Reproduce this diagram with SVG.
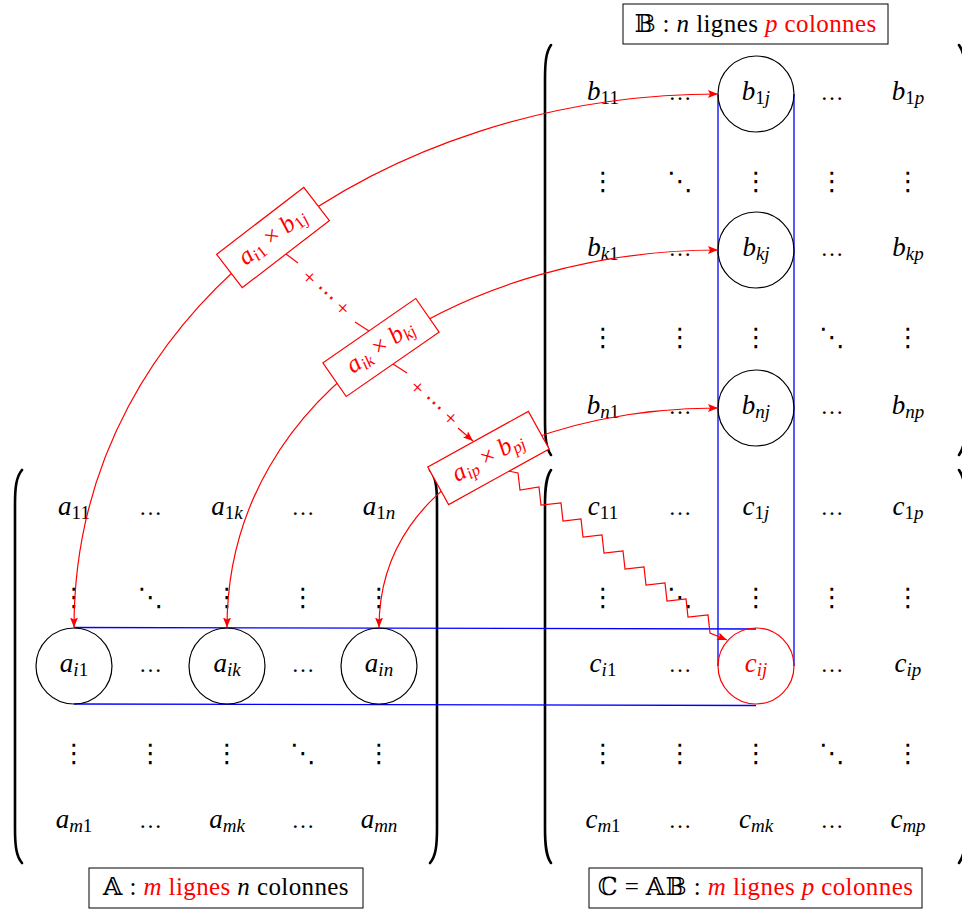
<svg xmlns="http://www.w3.org/2000/svg" width="962" height="910" viewBox="0 0 962 910">
<style>
.mi{font-family:'Liberation Serif','Times New Roman',Tinos,'DejaVu Serif','Noto Serif',serif;font-style:italic;font-size:27px;text-anchor:middle;fill:#000}
.sb{font-size:19px}
.up{font-style:normal}
.el{font-family:'Liberation Serif','Times New Roman',Tinos,serif;font-size:23px;text-anchor:middle;fill:#000}
.vd{font-family:'DejaVu Sans',sans-serif;font-size:26px;text-anchor:middle;fill:#000}
.circ{fill:none;stroke:#000;stroke-width:1.2}
.blue{stroke:#0000ff;stroke-width:1.3;fill:none}
.red{stroke:#ff0000;stroke-width:1.2;fill:none}
.box{fill:#fff;stroke:#ff0000;stroke-width:1.2}
.bt{font-family:'Liberation Serif','Times New Roman',Tinos,'DejaVu Serif',serif;font-style:italic;font-size:25px;text-anchor:middle;fill:#ff0000}
.bs{font-size:17px}
.pl{font-family:'Liberation Serif','Times New Roman','DejaVu Sans',serif;font-size:22px;text-anchor:middle;fill:#ff0000}
.lbl{font-family:'Liberation Serif','Times New Roman',Tinos,'DejaVu Serif','DejaVu Sans',serif;font-size:25px;letter-spacing:0.4px;text-anchor:middle;fill:#000}
.lbox{fill:#fff;stroke:#000;stroke-width:1}
.paren{fill:none;stroke:#000;stroke-width:2.6;stroke-linecap:round}
.it{font-style:italic}
.rd{fill:#ff0000}
</style>
<defs>
<marker id="ar" viewBox="0 0 10 8" refX="10" refY="4" markerWidth="10" markerHeight="8" markerUnits="userSpaceOnUse" orient="auto-start-reverse">
<path d="M0,0 L10,4 L0,8 L2,4 z" fill="#ff0000"/>
</marker>
</defs>

<!-- parentheses -->
<g id="parens">
<path class="paren" d="M551,45 C546,52 545,62 545,80 L545,420 C545,438 546,448 551,455"/>
<path class="paren" d="M959,45 C964,52 966,62 966,80 L966,420 C966,438 964,448 959,455"/>
<path class="paren" d="M22,470 C16,477 15,488 15,505 L15,828 C15,845 16,856 22,863"/>
<path class="paren" d="M430,470 C436,477 437,488 437,505 L437,828 C437,845 436,856 430,863"/>
<path class="paren" d="M551,470 C546,477 545,488 545,505 L545,828 C545,845 546,856 551,863"/>
<path class="paren" d="M959,470 C964,477 966,488 966,505 L966,828 C966,845 964,856 959,863"/>
</g>

<!-- blue bands -->
<g id="bands">
<line class="blue" x1="718" y1="94" x2="718" y2="666"/>
<line class="blue" x1="794" y1="94" x2="794" y2="666"/>
<line class="blue" x1="74" y1="627.5" x2="756" y2="629"/>
<line class="blue" x1="74" y1="704" x2="756" y2="705.5"/>
</g>

<!-- matrix B -->
<g id="B">
<g id="b11"><text class="mi" x="603" y="100">b<tspan class="sb up" dy="4">11</tspan></text></g>
<g id="b12"><text class="el" x="680" y="100">…</text></g>
<g id="b1j"><circle class="circ" cx="756" cy="94" r="38"/><text class="mi" x="756" y="100">b<tspan class="sb up" dy="4">1</tspan><tspan class="sb">j</tspan></text></g>
<g id="b14"><text class="el" x="832" y="100">…</text></g>
<g id="b1p"><text class="mi" x="908" y="100">b<tspan class="sb up" dy="4">1</tspan><tspan class="sb">p</tspan></text></g>

<g id="b21"><text class="vd" x="603" y="190">⋮</text></g>
<g id="b22"><text class="vd" x="680" y="190">⋱</text></g>
<g id="b23"><text class="vd" x="756" y="190">⋮</text></g>
<g id="b24"><text class="vd" x="832" y="190">⋮</text></g>
<g id="b25"><text class="vd" x="908" y="190">⋮</text></g>

<g id="bk1"><text class="mi" x="603" y="256">b<tspan class="sb" dy="4">k</tspan><tspan class="sb up">1</tspan></text></g>
<g id="bk2"><text class="el" x="680" y="256">…</text></g>
<g id="bkj"><circle class="circ" cx="756" cy="250" r="38"/><text class="mi" x="756" y="256">b<tspan class="sb" dy="4">kj</tspan></text></g>
<g id="bk4"><text class="el" x="832" y="256">…</text></g>
<g id="bkp"><text class="mi" x="908" y="256">b<tspan class="sb" dy="4">kp</tspan></text></g>

<g id="b41"><text class="vd" x="603" y="346">⋮</text></g>
<g id="b42"><text class="vd" x="680" y="346">⋮</text></g>
<g id="b43"><text class="vd" x="756" y="346">⋮</text></g>
<g id="b44"><text class="vd" x="832" y="346">⋱</text></g>
<g id="b45"><text class="vd" x="908" y="346">⋮</text></g>

<g id="bn1"><text class="mi" x="603" y="414">b<tspan class="sb" dy="4">n</tspan><tspan class="sb up">1</tspan></text></g>
<g id="bn2"><text class="el" x="680" y="414">…</text></g>
<g id="bnj"><circle class="circ" cx="756" cy="408" r="38"/><text class="mi" x="756" y="414">b<tspan class="sb" dy="4">nj</tspan></text></g>
<g id="bn4"><text class="el" x="832" y="414">…</text></g>
<g id="bnp"><text class="mi" x="908" y="414">b<tspan class="sb" dy="4">np</tspan></text></g>
</g>

<!-- matrix A -->
<g id="A">
<g id="a11"><text class="mi" x="74" y="515">a<tspan class="sb up" dy="4">11</tspan></text></g>
<g id="a12"><text class="el" x="150.5" y="515">…</text></g>
<g id="a1k"><text class="mi" x="227" y="515">a<tspan class="sb up" dy="4">1</tspan><tspan class="sb">k</tspan></text></g>
<g id="a14"><text class="el" x="303" y="515">…</text></g>
<g id="a1n"><text class="mi" x="379" y="515">a<tspan class="sb up" dy="4">1</tspan><tspan class="sb">n</tspan></text></g>

<g id="a21"><text class="vd" x="74" y="606">⋮</text></g>
<g id="a22"><text class="vd" x="150.5" y="606">⋱</text></g>
<g id="a23"><text class="vd" x="227" y="606">⋮</text></g>
<g id="a24"><text class="vd" x="303" y="606">⋮</text></g>
<g id="a25"><text class="vd" x="379" y="606">⋮</text></g>

<g id="ai1"><circle class="circ" cx="74" cy="666" r="38"/><text class="mi" x="74" y="672">a<tspan class="sb" dy="4">i</tspan><tspan class="sb up">1</tspan></text></g>
<g id="ai2"><text class="el" x="150.5" y="672">…</text></g>
<g id="aik"><circle class="circ" cx="227" cy="666" r="38"/><text class="mi" x="227" y="672">a<tspan class="sb" dy="4">ik</tspan></text></g>
<g id="ai4"><text class="el" x="303" y="672">…</text></g>
<g id="ain"><circle class="circ" cx="379" cy="666" r="38"/><text class="mi" x="379" y="672">a<tspan class="sb" dy="4">in</tspan></text></g>

<g id="a41"><text class="vd" x="74" y="762">⋮</text></g>
<g id="a42"><text class="vd" x="150.5" y="762">⋮</text></g>
<g id="a43"><text class="vd" x="227" y="762">⋮</text></g>
<g id="a44"><text class="vd" x="303" y="762">⋱</text></g>
<g id="a45"><text class="vd" x="379" y="762">⋮</text></g>

<g id="am1"><text class="mi" x="74" y="828">a<tspan class="sb" dy="4">m</tspan><tspan class="sb up">1</tspan></text></g>
<g id="am2"><text class="el" x="150.5" y="828">…</text></g>
<g id="amk"><text class="mi" x="227" y="828">a<tspan class="sb" dy="4">mk</tspan></text></g>
<g id="am4"><text class="el" x="303" y="828">…</text></g>
<g id="amn"><text class="mi" x="379" y="828">a<tspan class="sb" dy="4">mn</tspan></text></g>
</g>

<!-- matrix C -->
<g id="C">
<g id="c11"><text class="mi" x="603" y="515">c<tspan class="sb up" dy="4">11</tspan></text></g>
<g id="c12"><text class="el" x="680" y="515">…</text></g>
<g id="c1j"><text class="mi" x="756" y="515">c<tspan class="sb up" dy="4">1</tspan><tspan class="sb">j</tspan></text></g>
<g id="c14"><text class="el" x="832" y="515">…</text></g>
<g id="c1p"><text class="mi" x="908" y="515">c<tspan class="sb up" dy="4">1</tspan><tspan class="sb">p</tspan></text></g>

<g id="c21"><text class="vd" x="603" y="606">⋮</text></g>
<g id="c22"><text class="vd" x="680" y="606">⋱</text></g>
<g id="c23"><text class="vd" x="756" y="606">⋮</text></g>
<g id="c24"><text class="vd" x="832" y="606">⋮</text></g>
<g id="c25"><text class="vd" x="908" y="606">⋮</text></g>

<g id="ci1"><text class="mi" x="603" y="672">c<tspan class="sb" dy="4">i</tspan><tspan class="sb up">1</tspan></text></g>
<g id="ci2"><text class="el" x="680" y="672">…</text></g>
<g id="cij"><circle cx="756" cy="666" r="38" fill="none" stroke="#ff0000" stroke-width="1.2"/><text class="mi rd" x="756" y="672">c<tspan class="sb" dy="4">ij</tspan></text></g>
<g id="ci4"><text class="el" x="832" y="672">…</text></g>
<g id="cip"><text class="mi" x="908" y="672">c<tspan class="sb" dy="4">ip</tspan></text></g>

<g id="c41"><text class="vd" x="603" y="762">⋮</text></g>
<g id="c42"><text class="vd" x="680" y="762">⋮</text></g>
<g id="c43"><text class="vd" x="756" y="762">⋮</text></g>
<g id="c44"><text class="vd" x="832" y="762">⋱</text></g>
<g id="c45"><text class="vd" x="908" y="762">⋮</text></g>

<g id="cm1"><text class="mi" x="603" y="828">c<tspan class="sb" dy="4">m</tspan><tspan class="sb up">1</tspan></text></g>
<g id="cm2"><text class="el" x="680" y="828">…</text></g>
<g id="cmk"><text class="mi" x="756" y="828">c<tspan class="sb" dy="4">mk</tspan></text></g>
<g id="cm4"><text class="el" x="832" y="828">…</text></g>
<g id="cmp"><text class="mi" x="908" y="828">c<tspan class="sb" dy="4">mp</tspan></text></g>
</g>

<!-- connectors -->
<g id="connectors">
<path class="red" d="M74,627.5 C74,300 391,94 718,94" marker-start="url(#ar)" marker-end="url(#ar)"/>
<path class="red" d="M227,627.5 C227,385 476,250 718,250" marker-start="url(#ar)" marker-end="url(#ar)"/>
<path class="red" d="M379,627.5 C379,469 560,408 718,408" marker-start="url(#ar)" marker-end="url(#ar)"/>
<line class="red" x1="286" y1="254" x2="298" y2="263"/>
<line class="red" x1="355" y1="322" x2="369" y2="331"/>
<line class="red" x1="393" y1="364" x2="407" y2="373"/>
<line class="red" x1="458" y1="428" x2="473" y2="441" marker-end="url(#ar)"/>
<polyline class="red" points="508,471 518,473 520,490 539,487 541,505 561,503 563,521 581,519 583,537 602,535 604,553 623,551 625,569 644,567 646,585 665,583 667,601 686,599 688,617 708,615 710,633 727,640" marker-end="url(#ar)"/>
<text class="pl" transform="translate(326,293) rotate(43)" y="7">+ ⋯ +</text>
<text class="pl" transform="translate(434,403) rotate(43)" y="7">+ ⋯ +</text>
</g>

<!-- product boxes -->
<g id="p1" transform="translate(273,237.5) rotate(-37.6)">
<rect class="box" x="-55" y="-21" width="110" height="42"/>
<text class="bt" y="6">a<tspan class="bs" dy="4">i</tspan><tspan class="bs up">1</tspan><tspan class="up" dy="-4"> × </tspan>b<tspan class="bs up" dy="4">1</tspan><tspan class="bs">j</tspan></text>
</g>
<g id="p2" transform="translate(381,347.5) rotate(-34.7)">
<rect class="box" x="-56.5" y="-20.5" width="113" height="41"/>
<text class="bt" y="6">a<tspan class="bs" dy="4">ik</tspan><tspan class="up" dy="-4"> × </tspan>b<tspan class="bs" dy="4">kj</tspan></text>
</g>
<g id="p3" transform="translate(488.5,458) rotate(-29)">
<rect class="box" x="-57.5" y="-21.5" width="115" height="43"/>
<text class="bt" y="6">a<tspan class="bs" dy="4">ip</tspan><tspan class="up" dy="-4"> × </tspan>b<tspan class="bs" dy="4">pj</tspan></text>
</g>

<!-- labels -->
<g id="labelB">
<rect class="lbox" x="623" y="4" width="265" height="40"/>
<text class="lbl" x="755.5" y="32">𝔹 : <tspan class="it">n</tspan> lignes <tspan class="rd"><tspan class="it">p</tspan> colonnes</tspan></text>
</g>
<g id="labelA">
<rect class="lbox" x="89" y="868" width="274" height="40"/>
<text class="lbl" x="226" y="895">𝔸 : <tspan class="rd"><tspan class="it">m</tspan> lignes</tspan> <tspan class="it">n</tspan> colonnes</text>
</g>
<g id="labelC">
<rect class="lbox" x="589" y="868" width="333" height="40"/>
<text class="lbl" x="755.5" y="895">ℂ = 𝔸𝔹 : <tspan class="rd"><tspan class="it">m</tspan> lignes <tspan class="it">p</tspan> colonnes</tspan></text>
</g>
</svg>
